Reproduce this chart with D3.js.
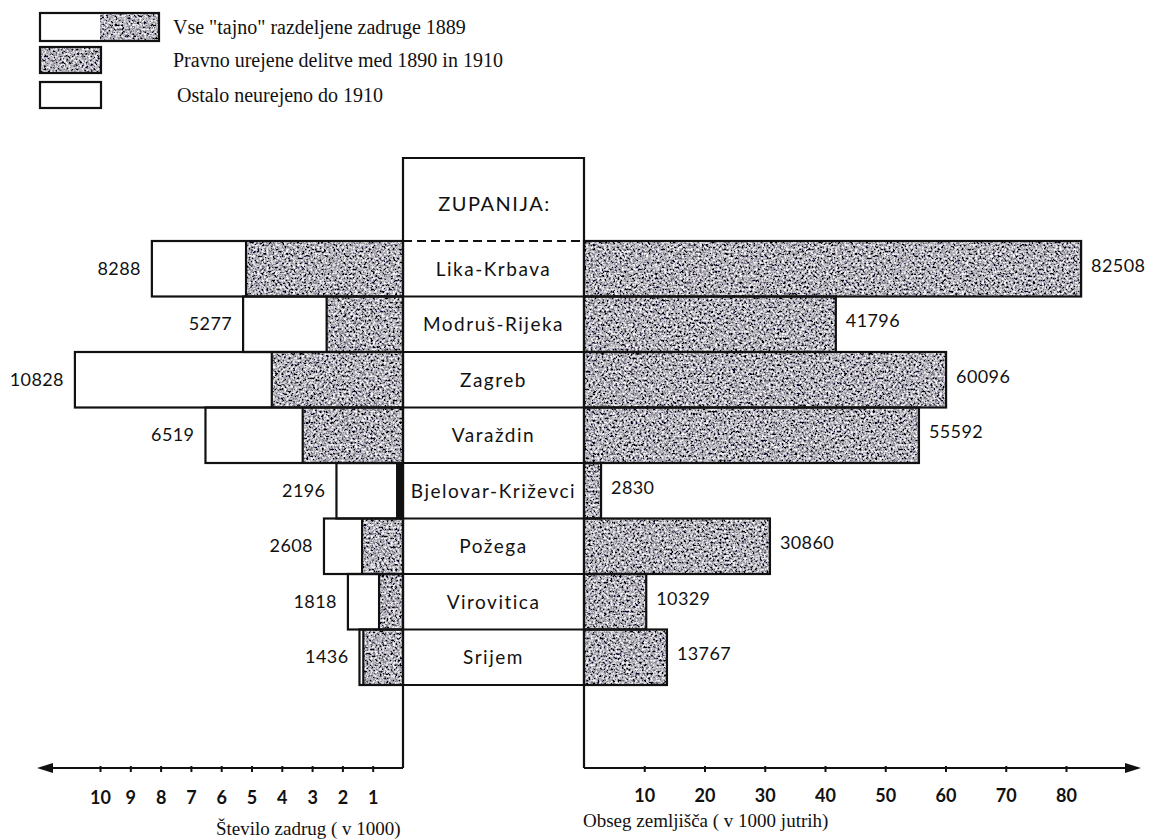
<!DOCTYPE html>
<html>
<head>
<meta charset="utf-8">
<script src="https://cdn.jsdelivr.net/npm/d3@7"></script>
<style>
  body { margin: 0; background: #fff; }
  svg { display: block; }
  .num { font-family: Lato, 'DejaVu Sans', sans-serif; font-size: 18px; letter-spacing: 0.4px; fill: #111; }
  .name { font-family: Lato, 'DejaVu Sans', sans-serif; font-size: 19px; letter-spacing: 1.5px; fill: #111; }
  .tick text { font-family: Lato, sans-serif; font-size: 18px; font-weight: 700; fill: #111; }
  .serif { font-family: 'Liberation Serif', 'DejaVu Serif', serif; fill: #111; }
</style>
</head>
<body>
<div id="chart-area"></div>
<script>
const zupanije = ['Lika-Krbava', 'Modruš-Rijeka', 'Zagreb', 'Varaždin', 'Bjelovar-Križevci', 'Požega', 'Virovitica', 'Srijem'];
// all "secretly" divided zadruge 1889
const zadrugeVse = [8288, 5277, 10828, 6519, 2196, 2608, 1818, 1436];
// legally settled divisions 1890-1910
const zadrugeUrejene = [5180, 2520, 4330, 3310, 230, 1350, 790, 1310];
// land area, jutro
const zemljisce = [82508, 41796, 60096, 55592, 2830, 30860, 10329, 13767];
const leftTicks = [1, 2, 3, 4, 5, 6, 7, 8, 9, 10];
const rightTicks = [10, 20, 30, 40, 50, 60, 70, 80];
const legendLabels = ['Vse "tajno" razdeljene zadruge 1889', 'Pravno urejene delitve med 1890 in 1910', 'Ostalo neurejeno do 1910'];

const drawChart = () => {
  const svg = d3.select('#chart-area').append('svg')
    .attr('width', 1152)
    .attr('height', 839);

  const defs = svg.append('defs');
  const grain = defs.append('filter')
    .attr('id', 'grain')
    .attr('filterUnits', 'userSpaceOnUse')
    .attr('x', 0).attr('y', 0).attr('width', 1152).attr('height', 839);
  grain.append('feTurbulence')
    .attr('type', 'fractalNoise')
    .attr('baseFrequency', 0.45)
    .attr('numOctaves', 3)
    .attr('seed', 7)
    .attr('result', 'noise');
  grain.append('feColorMatrix')
    .attr('in', 'noise')
    .attr('type', 'matrix')
    .attr('values', '2.2 0 0 0 -0.66  2.2 0 0 0 -0.67  2.2 0 0 0 -0.63  0 0 0 0 1')
    .attr('result', 'mono');
  grain.append('feComposite')
    .attr('in', 'mono')
    .attr('in2', 'SourceGraphic')
    .attr('operator', 'in');

  const y = d3.scaleBand()
    .domain(zupanije)
    .range([241, 685])
    .padding(0);

  const xLeft = d3.scaleLinear()
    .domain([0, 10000])
    .range([403, 100]);

  const xRight = d3.scaleLinear()
    .domain([0, 80000])
    .range([584, 1066]);

  const rows = zupanije.map((name, i) => ({
    name,
    vse: zadrugeVse[i],
    urejene: zadrugeUrejene[i],
    zemlja: zemljisce[i]
  }));

  // grainy fills
  const texture = svg.append('g').attr('filter', 'url(#grain)');
  texture.selectAll('.left-dark')
    .data(rows)
    .enter()
    .append('rect')
    .attr('x', d => xLeft(d.urejene))
    .attr('y', d => y(d.name))
    .attr('width', d => xLeft(0) - xLeft(d.urejene))
    .attr('height', y.bandwidth())
    .attr('fill', '#000');
  texture.selectAll('.right-dark')
    .data(rows)
    .enter()
    .append('rect')
    .attr('x', xRight(0))
    .attr('y', d => y(d.name))
    .attr('width', d => xRight(d.zemlja) - xRight(0))
    .attr('height', y.bandwidth())
    .attr('fill', '#000');

  // outlines
  const outline = svg.append('g')
    .attr('fill', 'none')
    .attr('stroke', '#111')
    .attr('stroke-width', 2.2);
  outline.selectAll('.left-total')
    .data(rows)
    .enter()
    .append('rect')
    .attr('x', d => xLeft(d.vse))
    .attr('y', d => y(d.name))
    .attr('width', d => xLeft(0) - xLeft(d.vse))
    .attr('height', y.bandwidth());
  outline.selectAll('.left-split')
    .data(rows)
    .enter()
    .append('line')
    .attr('x1', d => xLeft(d.urejene))
    .attr('x2', d => xLeft(d.urejene))
    .attr('y1', d => y(d.name))
    .attr('y2', d => y(d.name) + y.bandwidth())
    .attr('stroke-width', d => d.urejene < 500 ? 7 : 2.2)
    .attr('transform', d => d.urejene < 500 ? 'translate(3.5,0)' : null);
  outline.selectAll('.right-bar')
    .data(rows)
    .enter()
    .append('rect')
    .attr('x', xRight(0))
    .attr('y', d => y(d.name))
    .attr('width', d => xRight(d.zemlja) - xRight(0))
    .attr('height', y.bandwidth());

  // center column
  const cx0 = xLeft(0), cx1 = xRight(0);
  outline.append('line')
    .attr('x1', cx0).attr('x2', cx1).attr('y1', 158).attr('y2', 158);
  outline.append('line')
    .attr('x1', cx0).attr('x2', cx0).attr('y1', 157).attr('y2', 768);
  outline.append('line')
    .attr('x1', cx1).attr('x2', cx1).attr('y1', 157).attr('y2', 768);
  outline.append('line')
    .attr('x1', cx0).attr('x2', cx1)
    .attr('y1', y.range()[0]).attr('y2', y.range()[0])
    .attr('stroke-dasharray', '9 5');
  outline.selectAll('.row-line')
    .data(rows)
    .enter()
    .append('line')
    .attr('x1', cx0).attr('x2', cx1)
    .attr('y1', d => y(d.name) + y.bandwidth())
    .attr('y2', d => y(d.name) + y.bandwidth());

  svg.append('text')
    .attr('class', 'name')
    .attr('x', (cx0 + cx1) / 2 + 1)
    .attr('y', 211)
    .attr('text-anchor', 'middle')
    .style('font-size', '20px')
    .text('ZUPANIJA:');

  svg.selectAll('.row-name')
    .data(rows)
    .enter()
    .append('text')
    .attr('class', 'name')
    .attr('x', (cx0 + cx1) / 2)
    .attr('y', d => y(d.name) + y.bandwidth() / 2 + 7)
    .attr('text-anchor', 'middle')
    .text(d => d.name);

  svg.selectAll('.left-label')
    .data(rows)
    .enter()
    .append('text')
    .attr('class', 'num')
    .attr('x', d => xLeft(d.vse) - 11)
    .attr('y', d => y(d.name) + y.bandwidth() / 2 + 6)
    .attr('text-anchor', 'end')
    .text(d => d.vse);

  svg.selectAll('.right-label')
    .data(rows)
    .enter()
    .append('text')
    .attr('class', 'num')
    .attr('x', d => xRight(d.zemlja) + 10)
    .attr('y', d => y(d.name) + y.bandwidth() / 2 + 3)
    .text(d => d.zemlja);

  // axes
  const axisY = 768;
  const leftAxis = d3.axisBottom(xLeft)
    .tickValues(leftTicks.map(d => d * 1000))
    .tickFormat(d => d / 1000)
    .tickSize(4)
    .tickPadding(19);
  const rightAxis = d3.axisBottom(xRight)
    .tickValues(rightTicks.map(d => d * 1000))
    .tickFormat(d => d / 1000)
    .tickSize(4)
    .tickPadding(17);

  svg.append('g')
    .attr('class', 'x axis')
    .attr('transform', `translate(0,${axisY})`)
    .call(leftAxis)
    .call(g => g.select('.domain').remove())
    .call(g => g.selectAll('.tick line').attr('stroke', '#111').attr('stroke-width', 2).attr('y1', -2));
  svg.append('g')
    .attr('class', 'x axis')
    .attr('transform', `translate(0,${axisY})`)
    .call(rightAxis)
    .call(g => g.select('.domain').remove())
    .call(g => g.selectAll('.tick line').attr('stroke', '#111').attr('stroke-width', 2).attr('y1', -2));

  outline.append('line')
    .attr('x1', 44).attr('x2', cx0).attr('y1', axisY).attr('y2', axisY);
  outline.append('line')
    .attr('x1', cx1).attr('x2', 1132).attr('y1', axisY).attr('y2', axisY);
  svg.append('path')
    .attr('d', `M37,${axisY} L53,${axisY - 5} L53,${axisY + 5} Z`)
    .attr('fill', '#111');
  svg.append('path')
    .attr('d', `M1141,${axisY} L1125,${axisY - 5} L1125,${axisY + 5} Z`)
    .attr('fill', '#111');

  svg.append('text')
    .attr('class', 'serif')
    .attr('x', 216)
    .attr('y', 835)
    .style('font-size', '19px')
    .text('Število zadrug ( v 1000)');
  svg.append('text')
    .attr('class', 'serif')
    .attr('x', 583)
    .attr('y', 827)
    .style('font-size', '19px')
    .text('Obseg zemljišča ( v 1000 jutrih)');

  // legend
  const legend = [
    { white: [40, 100], dark: [100, 159], y: 13, h: 28, tx: 173 },
    { white: null, dark: [40, 101], y: 47, h: 26, tx: 173 },
    { white: [40, 101], dark: null, y: 82, h: 26, tx: 177 }
  ];
  legend.forEach((l, i) => {
    if (l.dark) {
      texture.append('rect')
        .attr('x', l.dark[0]).attr('y', l.y)
        .attr('width', l.dark[1] - l.dark[0]).attr('height', l.h)
        .attr('fill', '#000');
    }
    const x0 = l.white ? l.white[0] : l.dark[0];
    const x1 = l.dark ? l.dark[1] : l.white[1];
    outline.append('rect')
      .attr('x', x0).attr('y', l.y)
      .attr('width', x1 - x0).attr('height', l.h);
    svg.append('text')
      .attr('class', 'serif')
      .attr('x', l.tx)
      .attr('y', l.y + l.h / 2 + 7)
      .style('font-size', '20px')
      .text(legendLabels[i]);
  });
};

const main = () => {
  drawChart();
};
window.onload = main;
</script>
</body>
</html>
